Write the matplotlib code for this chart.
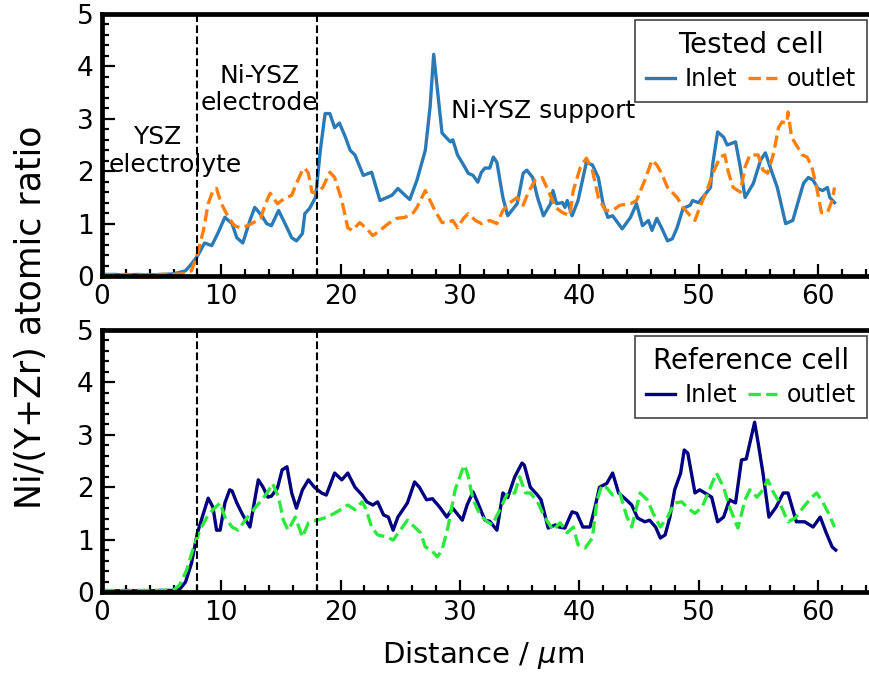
import matplotlib
matplotlib.use("Agg")
import matplotlib.pyplot as plt
from matplotlib.ticker import MultipleLocator

# ---------------- data ----------------
tested_inlet_x = [0, 1, 2, 3, 4, 5, 6,
    7.0, 7.5, 8.0, 8.6, 9.2, 9.7, 10.3, 10.9, 11.3, 11.8,
    12.4, 12.8, 13.4, 13.8, 14.2, 14.8, 15.3, 15.9, 16.3, 16.8,
    17.0, 17.4, 17.9, 18.3, 18.7, 19.1, 19.5, 19.9, 20.4, 20.8,
    21.2, 21.9, 22.6, 23.3, 23.9, 24.3, 24.8, 25.4, 25.8, 26.4,
    27.1, 27.5, 27.8, 28.2, 28.5, 28.9, 29.2, 29.4, 29.8, 30.3,
    30.7, 31.1, 31.5, 31.8, 32.1, 32.5, 32.8, 33.1, 33.6, 34.0,
    34.8, 35.3, 35.6, 36.1, 36.5, 37.0, 37.6, 37.8, 38.1, 38.6,
    38.8, 39.0, 39.4, 39.9, 40.6, 41.1, 41.6, 42.0, 42.4, 42.8,
    43.6, 44.3, 44.8, 45.3, 45.8, 46.1, 46.5, 46.9, 47.4, 47.8,
    48.2, 48.7, 49.3, 49.5, 50.0, 50.7, 51.0, 51.2, 51.6, 52.1,
    52.4, 53.1, 53.5, 53.9, 54.6, 55.2, 55.6, 56.0, 56.6, 57.3,
    57.9, 58.3, 58.8, 59.2, 59.6, 60.0, 60.4, 60.8, 61.0, 61.4]
tested_inlet_y = [0.03, 0.03, 0.02, 0.03, 0.02, 0.03, 0.04,
    0.1, 0.23, 0.38, 0.63, 0.58, 0.81, 1.12, 1.0, 0.73, 0.63,
    1.06, 1.31, 1.15, 1.0, 0.96, 1.25, 1.02, 0.73, 0.67, 0.81,
    1.19, 1.29, 1.5, 2.4, 3.1, 3.1, 2.83, 2.92, 2.65, 2.4,
    2.31, 1.92, 1.98, 1.44, 1.5, 1.54, 1.67, 1.54, 1.46, 1.83,
    2.4, 3.23, 4.23, 3.37, 2.73, 2.63, 2.56, 2.6, 2.31, 2.12,
    1.96, 1.92, 1.79, 1.98, 2.06, 2.06, 2.27, 2.17, 1.5, 1.15,
    1.38, 1.96, 2.02, 1.88, 1.5, 1.15, 1.38, 1.63, 1.38, 1.40,
    1.31, 1.44, 1.15, 1.44, 2.17, 2.12, 1.88, 1.38, 1.12, 1.15,
    0.9, 1.12, 1.38, 0.96, 1.06, 0.87, 1.1, 0.92, 0.67, 0.71,
    0.92, 1.29, 1.35, 1.44, 1.40, 1.6, 1.69, 2.15, 2.75, 2.65,
    2.5, 2.56, 2.08, 1.5, 1.77, 2.21, 2.35, 2.08, 1.69, 1.0,
    1.06, 1.38, 1.77, 1.88, 1.83, 1.67, 1.63, 1.69, 1.5, 1.40]

tested_outlet_x = [0, 1, 2, 3, 4, 5, 6,
    7.0, 7.5, 8.0, 8.5, 8.9, 9.3, 9.6, 10.0, 10.6, 11.1,
    11.6, 12.2, 12.7, 13.3, 13.7, 14.1, 14.7, 15.3, 15.9, 16.3,
    16.8, 17.0, 17.3, 17.6, 18.0, 18.5, 19.1, 19.5, 20.1, 20.6,
    21.0, 21.6, 22.2, 22.7, 23.3, 24.0, 24.7, 25.4, 26.1, 26.4,
    27.1, 27.5, 27.9, 28.5, 29.0, 29.4, 29.8, 30.3, 30.7, 31.3,
    31.8, 32.5, 33.1, 33.6, 34.2, 34.8, 35.3, 35.7, 36.3, 36.9,
    37.5, 38.0, 38.6, 39.2, 39.5, 40.1, 40.6, 41.1, 41.6, 42.2,
    42.8, 43.4, 44.3, 44.8, 45.5, 46.1, 46.5, 46.9, 47.4, 48.2,
    48.7, 49.3, 49.7, 50.1, 50.7, 51.2, 51.8, 52.2, 52.5, 52.9,
    53.5, 53.9, 54.3, 55.0, 55.4, 55.8, 56.3, 56.7, 57.0, 57.4,
    57.5, 57.8, 58.3, 58.7, 59.1, 59.5, 59.9, 60.3, 60.8, 61.2,
    61.4]
tested_outlet_y = [0.02, 0.02, 0.03, 0.02, 0.02, 0.03, 0.03,
    0.05, 0.1, 0.42, 0.87, 1.38, 1.63, 1.67, 1.38, 1.12, 0.96,
    0.92, 0.96, 1.02, 1.1, 1.38, 1.58, 1.38, 1.48, 1.54, 1.77,
    2.02, 2.06, 1.96, 1.6, 1.58, 1.69, 1.98, 1.88, 1.44, 0.92,
    0.87, 1.02, 0.9, 0.77, 0.87, 1.0, 1.1, 1.12, 1.21, 1.31,
    1.63, 1.44, 1.25, 1.02, 1.02, 1.06, 0.92, 1.1, 1.19, 1.06,
    1.0, 1.06, 1.0, 1.25, 1.40, 1.5, 1.35, 1.58, 1.83, 1.88,
    1.58, 1.31, 1.21, 1.15, 1.63, 2.08, 2.25, 2.02, 1.5, 1.25,
    1.25, 1.35, 1.38, 1.44, 1.83, 2.21, 2.12, 1.96, 1.69, 1.5,
    1.31, 1.15, 1.06, 1.31, 1.63, 1.96, 2.27, 2.31, 1.98, 1.69,
    1.6, 2.08, 2.31, 2.31, 2.02, 1.96, 2.35, 2.83, 2.94, 2.92,
    3.13, 2.65, 2.46, 2.31, 2.27, 2.08, 1.69, 1.21, 1.21, 1.44,
    1.69]

ref_inlet_x = [0, 1, 2, 3, 4, 5, 6, 6.5,
    7.0, 7.5, 8.0, 8.5, 8.9, 9.3, 9.6, 9.9, 10.3, 10.7,
    10.9, 11.3, 11.8, 12.4, 13.1, 13.5, 13.9, 14.2, 14.7, 15.1,
    15.5, 15.9, 16.3, 16.8, 17.3, 17.8, 18.4, 18.8, 19.5, 20.1,
    20.6, 21.2, 21.8, 22.2, 22.7, 23.1, 23.6, 24.0, 24.4, 24.8,
    25.6, 26.2, 26.6, 27.2, 27.7, 28.3, 28.9, 29.4, 30.2, 30.6,
    31.1, 31.5, 32.1, 32.5, 33.1, 33.6, 34.0, 34.6, 35.2, 35.4,
    35.9, 36.5, 36.8, 37.4, 38.0, 38.3, 38.8, 39.4, 39.8, 40.3,
    40.9, 41.3, 41.7, 42.3, 42.8, 43.3, 43.8, 44.4, 44.9, 45.5,
    45.9, 46.4, 46.8, 47.2, 47.6, 48.0, 48.5, 48.8, 49.1, 49.7,
    50.1, 51.1, 51.6, 52.1, 52.6, 53.1, 53.6, 54.0, 54.3, 54.7,
    55.0, 55.4, 55.9, 56.5, 57.1, 57.5, 58.2, 58.9, 59.6, 60.2,
    60.7, 61.2, 61.5]
ref_inlet_y = [0.02, 0.02, 0.03, 0.02, 0.02, 0.03, 0.03, 0.05,
    0.19, 0.55, 1.13, 1.5, 1.79, 1.62, 1.18, 1.18, 1.7, 1.95,
    1.93, 1.7, 1.47, 1.24, 2.14, 2.0, 1.81, 1.83, 1.98, 2.33,
    2.39, 1.89, 1.6, 1.95, 2.14, 2.0, 1.89, 1.85, 2.27, 2.14,
    2.27, 2.0, 1.85, 1.72, 1.66, 1.72, 1.47, 1.43, 1.18, 1.43,
    1.7, 2.1, 2.0, 1.76, 1.78, 1.62, 1.43, 1.6, 1.37, 1.66,
    1.91, 1.7, 1.37, 1.35, 1.18, 1.89, 1.8, 2.2, 2.46, 2.42,
    2.0, 1.85, 1.76, 1.22, 1.28, 1.24, 1.22, 1.53, 1.5, 1.24,
    1.24, 1.6, 2.0, 2.07, 2.27, 1.89, 1.79, 1.66, 1.41, 1.34,
    1.37, 1.24, 1.03, 1.09, 1.43, 1.95, 2.27, 2.71, 2.65, 1.89,
    1.95, 1.81, 1.34, 1.43, 1.76, 1.7, 2.52, 2.54, 2.84, 3.24,
    2.84, 2.27, 1.43, 1.62, 1.89, 1.89, 1.34, 1.34, 1.24, 1.43,
    1.13, 0.86, 0.8]

ref_outlet_x = [0, 1, 2, 3, 4, 5, 6.0,
    6.5, 7.1, 7.6, 8.2, 8.8, 9.3, 9.9, 10.3, 10.9, 11.4,
    12.0, 12.7, 13.4, 13.9, 14.3, 14.8, 15.2, 15.6, 16.2, 16.8,
    17.3, 18.0, 18.9, 19.7, 20.2, 20.6, 21.2, 21.8, 22.1, 22.6,
    23.1, 23.9, 24.4, 25.0, 25.6, 26.2, 26.7, 27.1, 27.6, 28.1,
    28.5, 29.0, 29.6, 30.2, 30.4, 30.7, 31.1, 31.7, 32.3, 32.7,
    33.2, 34.0, 34.6, 35.0, 35.5, 35.9, 36.5, 37.1, 37.8, 38.4,
    39.0, 39.5, 39.9, 40.5, 41.1, 41.5, 41.9, 42.3, 42.8, 43.4,
    44.0, 44.4, 45.1, 45.7, 46.2, 46.8, 47.4, 48.0, 48.6, 49.1,
    49.7, 50.3, 50.8, 51.5, 52.1, 52.6, 53.3, 53.9, 54.3, 54.9,
    55.4, 55.8, 56.3, 56.8, 57.5, 58.1, 58.8, 59.5, 59.9, 60.4,
    60.9, 61.4]
ref_outlet_y = [0.03, 0.03, 0.02, 0.03, 0.03, 0.03, 0.04,
    0.13, 0.42, 0.8, 1.18, 1.43, 1.57, 1.7, 1.43, 1.24, 1.18,
    1.37, 1.57, 1.76, 1.91, 2.07, 1.81, 1.37, 1.18, 1.43, 1.05,
    1.32, 1.37, 1.43, 1.53, 1.6, 1.66, 1.57, 1.72, 1.6, 1.24,
    1.09, 1.05, 0.99, 1.18, 1.37, 1.24, 1.13, 0.86, 0.8, 0.67,
    0.8, 1.24, 1.95, 2.33, 2.42, 2.2, 1.76, 1.47, 1.34, 1.28,
    1.5, 1.89, 1.89, 2.2, 1.89, 1.89, 1.72, 1.43, 1.18, 1.32,
    1.13, 1.24, 0.9, 0.84, 1.03, 1.76, 2.04, 1.99, 1.85, 1.89,
    1.43, 1.24, 1.89, 1.76, 1.5, 1.24, 1.43, 1.7, 1.72, 1.6,
    1.5, 1.62, 1.89, 2.27, 2.0, 1.62, 1.22, 1.76, 1.95, 1.81,
    1.95, 2.14, 1.89, 1.7, 1.34, 1.41, 1.62, 1.81, 1.89, 1.72,
    1.5, 1.24]

boundaries = [8, 18]
x_ticks = [0, 10, 20, 30, 40, 50, 60]
y_ticks = [0, 1, 2, 3, 4, 5]

# ---------------- figure ----------------
W, H = 869, 674
fig = plt.figure(figsize=(W / 100, H / 100), dpi=100)

left = 102 / W
width = 775.5 / W
ax1 = fig.add_axes([left, 1 - 276 / H, width, 262 / H])
ax2 = fig.add_axes([left, 1 - 592 / H, width, 262 / H])

lw = 2.4
ax1.plot(tested_inlet_x, tested_inlet_y, color="#2a7ab8", lw=lw, label="Inlet")
ax1.plot(tested_outlet_x, tested_outlet_y, color="#ff7f0e", lw=lw, ls="--", label="outlet")
ax2.plot(ref_inlet_x, ref_inlet_y, color="#000080", lw=lw, label="Inlet")
ax2.plot(ref_outlet_x, ref_outlet_y, color="#2ee83c", lw=lw, ls="--", label="outlet")

for ax, title in ((ax1, "Tested cell"), (ax2, "Reference cell")):
    for b in boundaries:
        ax.axvline(b, color="black", lw=1.5, ls="--")
    ax.set_xlim(0, 65)
    ax.set_ylim(0, 5)
    ax.set_xticks(x_ticks)
    ax.set_yticks(y_ticks)
    ax.xaxis.set_minor_locator(MultipleLocator(2))
    ax.yaxis.set_minor_locator(MultipleLocator(0.2))
    ax.tick_params(which="both", direction="in", top=False, right=False,
                   labelsize=19, width=1.6)
    ax.tick_params(which="major", length=9, pad=6)
    ax.tick_params(which="minor", length=5)
    for sp in ax.spines.values():
        sp.set_linewidth(3.4)
    leg = ax.legend(title=title, ncol=2, loc="upper right",
                    bbox_to_anchor=(0.986, 0.977), borderaxespad=0,
                    fontsize=17, title_fontsize=20, handlelength=1.25,
                    handletextpad=0.4, columnspacing=0.45,
                    borderpad=0.45, labelspacing=0.35,
                    fancybox=False, framealpha=1)
    leg.get_frame().set_edgecolor("#444444")
    leg.get_frame().set_linewidth(1.2)

ax1.text(4.6, 2.66, "YSZ", fontsize=18, ha="center", va="center")
ax1.text(6.1, 2.12, "electrolyte", fontsize=18, ha="center", va="center")
ax1.text(13.2, 3.56, "Ni-YSZ\nelectrode", fontsize=18, ha="center", va="center",
         linespacing=1.12)
ax1.text(37.0, 3.15, "Ni-YSZ support", fontsize=18, ha="center", va="center")

fig.text(483 / W, 1 - 655 / H, "Distance / $\\mu$m", fontsize=21,
         ha="center", va="center")
fig.text(31 / W, 1 - 317 / H, "Ni/(Y+Zr) atomic ratio", fontsize=25,
         ha="center", va="center", rotation=90)

fig.savefig("out.png", dpi=100)
